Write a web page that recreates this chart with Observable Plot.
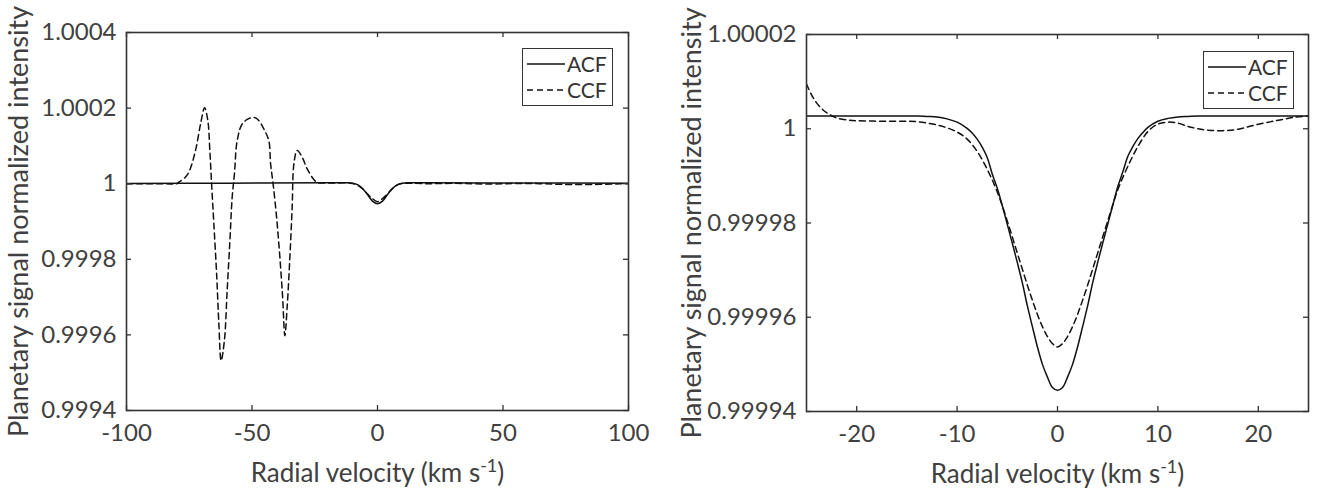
<!DOCTYPE html>
<html>
<head>
<meta charset="utf-8">
<script src="https://cdn.jsdelivr.net/npm/d3@7"></script>
<script src="https://cdn.jsdelivr.net/npm/@observablehq/plot@0.6"></script>
<style>
  html, body { margin: 0; padding: 0; background: #fff; }
  #wrap { position: relative; width: 1323px; height: 495px; overflow: hidden; font-family: Lato, sans-serif; }
  #wrap svg.plot { position: absolute; top: 0; }
  .legend { position: absolute; border: 1.5px solid #333; background: #fff; box-sizing: border-box; }
  .legend .row { position: absolute; left: 0; height: 22px; display: flex; align-items: center; }
  .legend .row span { font-size: 21px; color: #333; margin-left: 2px; line-height: 22px; }
</style>
</head>
<body>
<div id="wrap"></div>
<script>
// ---------------- Left panel data (km/s, normalized intensity) ----------------
const leftAcfV = [-100, -60, -20, -12, -10, -8, -6, -4, -2, 0, 2, 4, 6, 8, 10, 12, 20, 60, 100];
const leftAcfI = [1.0000005, 1.0000015, 1.0000025, 1.0000025, 1.0000012, 0.9999975, 0.9999875, 0.9999715, 0.9999540, 0.9999470,
                  0.9999540, 0.9999715, 0.9999875, 0.9999975, 1.0000012, 1.0000025, 1.0000025, 1.0000018, 1.0000013];

const leftCcfV = [-100, -85, -80, -79.2, -77, -75.2, -72.5, -70.5, -68.9, -67.6, -66.8, -66.1, -65.2, -64.1, -63.2, -62.3,
                  -61, -59.9, -58.8, -57.9, -57, -55.9, -53.9, -51.3, -49, -47.3, -45.3, -43.3, -42.6, -41.6, -40.2, -38.9,
                  -37.8, -36.9, -36, -34.9, -34, -33.3, -32, -30, -28, -25.6, -24, -20, -12, -10, -8, -6, -4, -2, 0,
                  2, 4, 6, 8, 10, 12, 20, 30, 45, 55, 65, 75, 85, 95, 100];
const leftCcfI = [1.0000000, 1.0000000, 1.0000000, 1.0000040, 1.0000140, 1.0000300, 1.0000880, 1.0001580, 1.0002010, 1.0001670,
                  1.0000880, 1.0000000, 0.9998940, 0.9997620, 0.9996290, 0.9995320,
                  0.9995850, 0.9997170, 0.9998500, 0.9999640, 1.0000260, 1.0001140, 1.0001580, 1.0001720, 1.0001750, 1.0001670,
                  1.0001450, 1.0001140, 1.0000530, 1.0000000, 0.9999110, 0.9998060,
                  0.9997000, 0.9995980, 0.9996730, 0.9998060, 0.9999380, 1.0000530, 1.0000880, 1.0000700, 1.0000390, 1.0000130,
                  1.0000030, 1.0000020, 1.0000020, 1.0000005, 0.9999965, 0.9999870, 0.9999730, 0.9999605, 0.9999525,
                  0.9999605, 0.9999730, 0.9999875, 0.9999970, 1.0000010, 1.0000015, 1.0000000, 1.0000010, 0.9999990, 1.0000005,
                  1.0000000, 0.9999980, 0.9999980, 0.9999995, 1.0000000];

// ---------------- Right panel data (zoom on the line) ----------------
const rightAcfV = [-25, -15, -14, -13, -12, -11, -10, -9, -8.5, -8, -7.5, -7, -6.5, -6, -5.5, -5, -4.5, -4, -3.5, -3, -2.5, -2,
                   -1.5, -1, -0.5, 0, 0.5, 1, 1.5, 2, 2.5, 3, 3.5, 4, 4.5, 5, 5.5, 6, 6.5, 7, 7.5, 8, 8.5, 9, 10, 11, 12, 13, 14, 15, 25];
const rightAcfI = [1.0000027, 1.0000027, 1.0000027, 1.0000026, 1.0000025, 1.0000021, 1.0000014, 1.0000001, 0.9999991, 0.9999978,
                   0.9999961, 0.9999939, 0.9999904, 0.9999874, 0.9999837, 0.9999797, 0.9999757, 0.9999716, 0.9999673, 0.9999624,
                   0.9999580, 0.9999537, 0.9999500, 0.9999473, 0.9999451, 0.9999445,
                   0.9999451, 0.9999473, 0.9999500, 0.9999537, 0.9999580, 0.9999624, 0.9999673, 0.9999716, 0.9999757, 0.9999797,
                   0.9999837, 0.9999877, 0.9999908, 0.9999941, 0.9999962, 0.9999979, 0.9999992, 1.0000003, 1.0000016, 1.0000022,
                   1.0000025, 1.0000026, 1.0000027, 1.0000027, 1.0000027];

const rightCcfV = [-25, -24.5, -24, -23.5, -23, -22.5, -22, -21, -20, -17, -15, -14, -13, -12, -11, -10, -9, -8, -7, -6, -5,
                   -4, -3.5, -3, -2.5, -2, -1.5, -1, -0.5, 0, 0.5, 1, 1.5, 2, 2.5, 3, 3.5, 4, 5, 6, 7, 8, 9, 10, 11, 12, 13,
                   14, 15, 16.5, 18, 19.5, 21, 22, 23.5, 25];
const rightCcfI = [1.0000095, 1.0000072, 1.0000055, 1.0000043, 1.0000034, 1.0000028, 1.0000023, 1.0000019, 1.0000017, 1.0000016,
                   1.0000016, 1.0000015, 1.0000012, 1.0000008, 1.0000002, 0.9999993, 0.9999978, 0.9999952, 0.9999914, 0.9999866,
                   0.9999804, 0.9999736, 0.9999702, 0.9999668, 0.9999636, 0.9999606, 0.9999580, 0.9999559, 0.9999544, 0.9999537,
                   0.9999544, 0.9999559, 0.9999580, 0.9999606, 0.9999636, 0.9999668, 0.9999702, 0.9999736, 0.9999804, 0.9999870,
                   0.9999920, 0.9999962, 0.9999994, 1.0000010, 1.0000014, 1.0000012, 1.0000005, 1.0000000, 0.9999997, 0.9999996,
                   0.9999999, 1.0000007, 1.0000014, 1.0000018, 1.0000024, 1.0000027];

// ---------------- Ticks ----------------
const leftXTicks = [-100, -50, 0, 50, 100];
const leftXLabels = ["-100", "-50", "0", "50", "100"];
const leftYTicks = [0.9994, 0.9996, 0.9998, 1, 1.0002, 1.0004];
const leftYLabels = ["0.9994", "0.9996", "0.9998", "1", "1.0002", "1.0004"];
const rightXTicks = [-20, -10, 0, 10, 20];
const rightXLabels = ["-20", "-10", "0", "10", "20"];
const rightYTicks = [0.99994, 0.99996, 0.99998, 1, 1.00002];
const rightYLabels = ["0.99994", "0.99996", "0.99998", "1", "1.00002"];

const seriesNames = ["ACF", "CCF"];
const xTitle = "Radial velocity (km s-1)";
const yTitle = "Planetary signal normalized intensity";

function rows(vs, is) { return vs.map((v, k) => ({v, val: is[k]})); }

function panel(o) {
  const W = o.width, H = 495;
  const ph = H - o.mT - o.mB, pw = W - o.mL - o.mR;
  const xMap = new Map(o.xTicks.map((t, k) => [t, o.xLabels[k]]));
  const yMap = new Map(o.yTicks.map((t, k) => [t, o.yLabels[k]]));
  const tickStyle = {stroke: "#333", strokeWidth: 1.3};
  const svg = Plot.plot({
    width: W, height: H,
    marginLeft: o.mL, marginRight: o.mR, marginTop: o.mT, marginBottom: o.mB,
    style: {fontFamily: "Lato, sans-serif", fontSize: "24px", color: "#404040", background: "transparent", overflow: "visible"},
    x: {domain: o.xDomain},
    y: {domain: o.yDomain},
    marks: [
      Plot.line(rows(o.acfV, o.acfI), {x: "v", y: "val", stroke: "#111", strokeWidth: 1.5, curve: "catmull-rom", clip: true}),
      Plot.line(rows(o.ccfV, o.ccfI), {x: "v", y: "val", stroke: "#111", strokeWidth: 1.5, strokeDasharray: o.dash, curve: "catmull-rom", clip: true}),
      Plot.tickX(o.xTicks, {x: d => d, insetTop: ph - 5, ...tickStyle}),
      Plot.tickX(o.xTicks, {x: d => d, insetBottom: ph - 5, ...tickStyle}),
      Plot.tickY(o.yTicks, {y: d => d, insetRight: pw - 5, ...tickStyle}),
      Plot.tickY(o.yTicks, {y: d => d, insetLeft: pw - 5, ...tickStyle}),
      Plot.frame({stroke: "#333", strokeWidth: 1.6}),
      Plot.axisX(o.xTicks, {tickSize: 0, tickPadding: 13, tickFormat: d => xMap.get(d), fill: "#404040",
        label: xTitle, labelAnchor: "center", labelOffset: o.xLabelOffset, labelArrow: "none"}),
      Plot.axisY(o.yTicks, {tickSize: 0, tickPadding: 10, tickFormat: d => yMap.get(d), fill: "#404040",
        label: yTitle, labelAnchor: "center", labelOffset: o.yLabelOffset, labelArrow: "none"})
    ]
  });
  svg.classList.add("plot");
  svg.style.left = o.left + "px";
  const sel = d3.select(svg).selectAll("text");
  sel.filter(function() { return this.textContent === yTitle; }).each(function() {
    this.style.fontSize = "27px";
  });
  // superscript for the unit in the x title
  sel.filter(function() { return this.textContent === xTitle; }).each(function() {
    this.style.fontSize = "26px";
    const t = d3.select(this);
    t.text(null);
    t.append("tspan").text("Radial velocity (km s");
    t.append("tspan").attr("dy", "-10").attr("font-size", "18px").text("-1");
    t.append("tspan").attr("dy", "10").text(")");
  });
  return svg;
}

function legend(left, top) {
  const div = document.createElement("div");
  div.className = "legend";
  div.style.left = left + "px"; div.style.top = top + "px";
  div.style.width = "91px"; div.style.height = "58px";
  seriesNames.forEach((name, k) => {
    const row = document.createElement("div");
    row.className = "row";
    row.style.top = (4 + k * 26) + "px";
    row.style.left = "4px";
    const dash = k === 0 ? "" : "stroke-dasharray='6,4'";
    row.innerHTML = `<svg width="38" height="22" style="position:static"><line x1="0" x2="38" y1="11" y2="11" stroke="#111" stroke-width="1.5" ${dash}/></svg><span>${name}</span>`;
    div.appendChild(row);
  });
  return div;
}

const wrap = document.getElementById("wrap");
wrap.appendChild(panel({
  left: 0, width: 660, mL: 126, mR: 32, mT: 32, mB: 85,
  xDomain: [-100, 100], yDomain: [0.9994, 1.0004],
  xTicks: leftXTicks, xLabels: leftXLabels, yTicks: leftYTicks, yLabels: leftYLabels,
  acfV: leftAcfV, acfI: leftAcfI, ccfV: leftCcfV, ccfI: leftCcfI, dash: "6,4",
  xLabelOffset: 71, yLabelOffset: 118
}));
wrap.appendChild(panel({
  left: 663, width: 660, mL: 143, mR: 15, mT: 34, mB: 84,
  xDomain: [-25, 25], yDomain: [0.99994, 1.00002],
  xTicks: rightXTicks, xLabels: rightXLabels, yTicks: rightYTicks, yLabels: rightYLabels,
  acfV: rightAcfV, acfI: rightAcfI, ccfV: rightCcfV, ccfI: rightCcfI, dash: "6,4",
  xLabelOffset: 71, yLabelOffset: 125
}));
wrap.appendChild(legend(522, 48));
wrap.appendChild(legend(1203, 51));
</script>
</body>
</html>
